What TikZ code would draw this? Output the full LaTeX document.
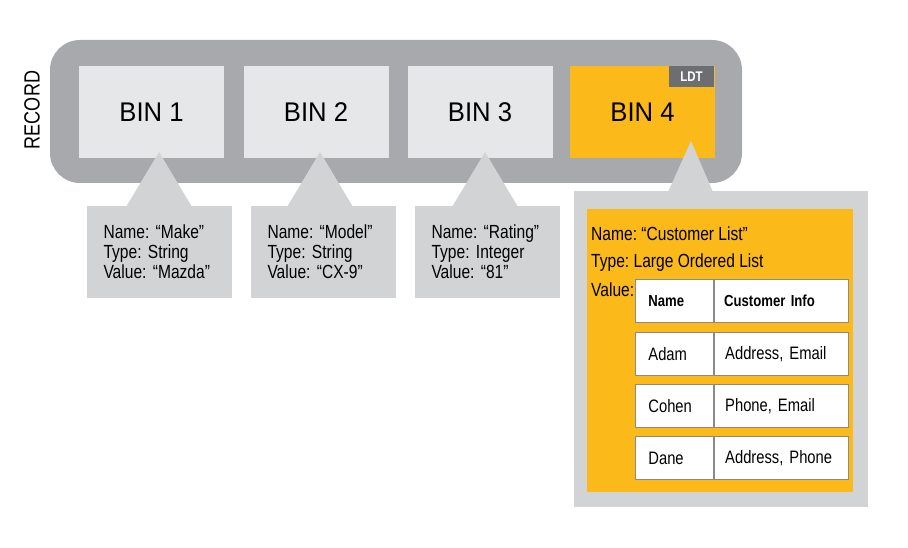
\documentclass[tikz,border=0pt]{standalone}
\usepackage{fontspec}
\setmainfont{Liberation Sans}[FakeStretch=0.82]
\newfontfamily\binfont{Liberation Sans}[FakeStretch=0.95]
\frenchspacing
\usetikzlibrary{positioning}
\definecolor{recgray}{HTML}{A7A9AC}
\definecolor{bingray}{HTML}{E6E7E8}
\definecolor{tipgray}{HTML}{D1D3D4}
\definecolor{ldtgold}{HTML}{FBBA1A}
\definecolor{ldtdark}{HTML}{6D6E71}
\definecolor{cellline}{HTML}{8A8A8A}

\begin{document}
\begin{tikzpicture}[x=1pt,y=-1pt,
    bin/.style={fill=bingray, minimum width=145pt, minimum height=92pt, inner sep=0pt,
      font=\binfont\fontsize{27}{30}\selectfont},
    info/.style={fill=tipgray, text width=112pt, inner xsep=16.5pt, minimum height=92pt,
      align=left, font=\fontsize{19}{20}\selectfont},
    cell/.style={draw=cellline, line width=0.8pt, fill=white, minimum height=43pt,
      inner ysep=0pt, align=left, font=\fontsize{18}{20}\selectfont},
    namecell/.style={cell, text width=52pt, inner xsep=13pt},
    infocell/.style={cell, text width=112pt, inner xsep=11pt}]
  \useasboundingbox (0,0) rectangle (908,548);
  % record
  \fill [recgray, rounded corners=30pt] (50,40) rectangle (742,183);
  \node [rotate=90, font=\fontsize{22}{24}\selectfont] (record) at (32,110) {RECORD};
  \node [bin] (bin1) at (151.5,112) {BIN 1};
  \node [bin] (bin2) at (316,112) {BIN 2};
  \node [bin] (bin3) at (480,112) {BIN 3};
  \node [bin, fill=ldtgold] (bin4) at (642.5,112.5) {BIN 4};
  \node [fill=ldtdark, text=white, minimum width=45pt, minimum height=21pt, inner sep=0pt,
    font=\fontsize{14}{15}\bfseries] (ldt) at (691.5,76.5) {LDT};
  % small callouts
  \fill [tipgray] (159,152) -- (192,207) -- (126,207) -- cycle;
  \fill [tipgray] (320,152) -- (353,207) -- (287,207) -- cycle;
  \fill [tipgray] (485,152) -- (518,207) -- (452,207) -- cycle;
  \node [info] (info1) at (159.5,252) {Name: “Make”\\Type: String\\Value: “Mazda”};
  \node [info] (info2) at (323.5,252) {Name: “Model”\\Type: String\\Value: “CX-9”};
  \node [info] (info3) at (487.5,252) {Name: “Rating”\\Type: Integer\\Value: “81”};
  % large callout
  \fill [tipgray] (691,141) -- (713,192) -- (668,192) -- cycle;
  \fill [tipgray] (574,191) rectangle (868,507);
  \fill [ldtgold] (587,209) rectangle (853,492);
  \begin{scope}[font=\fontsize{19}{20}\selectfont]
    \node [anchor=base west, inner sep=0pt] (lname) at (591,241) {Name: “Customer List”};
    \node [anchor=base west, inner sep=0pt] (ltype) at (591,268) {Type: Large Ordered List};
    \node [anchor=base west, inner sep=0pt] (lvalue) at (591,296) {Value:};
  \end{scope}
  % table
  \node [namecell, anchor=north west, font=\fontsize{16}{18}\bfseries] (hname) at (635,279) {Name};
  \node [infocell, anchor=north west, inner xsep=10pt, text width=114pt,
    font=\fontsize{16}{18}\bfseries] (hinfo) at (hname.north east) {Customer Info};
  \node [namecell, anchor=north west] (name1) at (635,332) {Adam};
  \node [infocell, anchor=north west] (info1b) at (name1.north east) {Address, Email};
  \node [namecell, anchor=north west] (name2) at (635,384) {Cohen};
  \node [infocell, anchor=north west] (info2b) at (name2.north east) {Phone, Email};
  \node [namecell, anchor=north west] (name3) at (635,436) {Dane};
  \node [infocell, anchor=north west] (info3b) at (name3.north east) {Address, Phone};
\end{tikzpicture}
\end{document}
